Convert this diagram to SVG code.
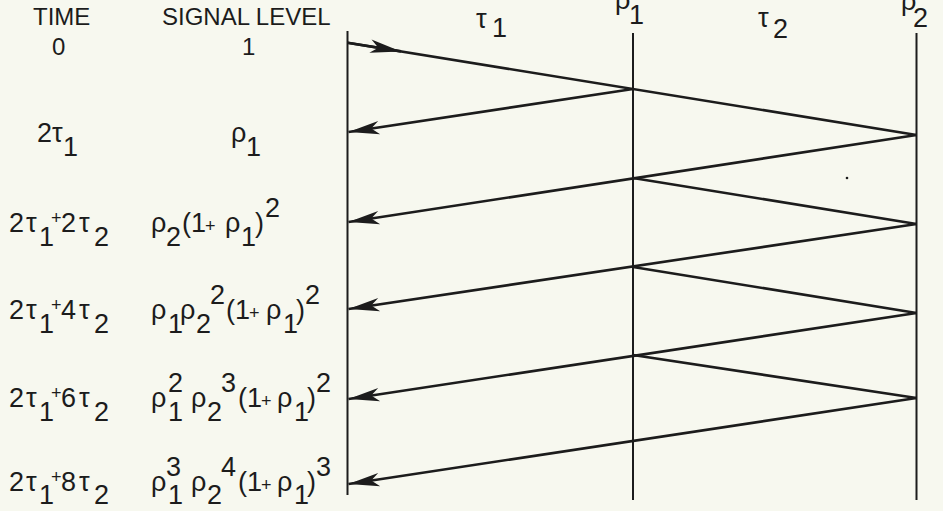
<svg xmlns="http://www.w3.org/2000/svg" width="943" height="511" viewBox="0 0 943 511">
<defs>
<style>
.t{font-family:"Liberation Sans","DejaVu Sans",sans-serif;font-size:27px;fill:#1c1c1c}
.h{font-size:24px}
.p{font-size:18px}
.b{stroke:#1c1c1c;stroke-width:2;fill:none}
.r{stroke:#1c1c1c;stroke-width:2.6;fill:none}
</style>
<marker id="ah" markerUnits="userSpaceOnUse" orient="auto" refX="0" refY="0" markerWidth="40" markerHeight="20" viewBox="-34 -10 40 20" overflow="visible">
<path d="M0,0 L-31,-7 L-23,0 L-31,6.5 Z" fill="#1c1c1c"/>
</marker>
</defs>
<rect width="943" height="511" fill="#f7f8ef"/>

<g id="headers">
<text class="t h" x="33" y="25">TIME</text>
<text class="t h" x="162" y="25">SIGNAL LEVEL</text>
</g>

<g id="top-labels">
<text class="t"><tspan x="476" y="28">τ</tspan><tspan x="492" y="37">1</tspan></text>
<text class="t"><tspan x="615" y="9">ρ</tspan><tspan x="629" y="24">1</tspan></text>
<text class="t"><tspan x="758" y="27">τ</tspan><tspan x="773" y="38">2</tspan></text>
<text class="t"><tspan x="901" y="10">ρ</tspan><tspan x="913" y="27">2</tspan></text>
</g>

<g id="boundaries">
<line class="b" x1="347.5" y1="31" x2="347.5" y2="495"/>
<line class="b" x1="633" y1="33" x2="633" y2="500"/>
<line class="b" x1="916.5" y1="33" x2="916.5" y2="500"/>
</g>

<g id="row0">
<text class="t h" x="52" y="55">0</text>
<text class="t h" x="242" y="55">1</text>
</g>

<g id="row1">
<text class="t"><tspan x="37" y="142">2</tspan><tspan x="52" y="142">τ</tspan><tspan x="63" y="156">1</tspan></text>
<text class="t"><tspan x="231" y="142">ρ</tspan><tspan x="246" y="156">1</tspan></text>
</g>

<g id="row2">
<text class="t"><tspan x="9" y="232">2</tspan><tspan x="26" y="232">τ</tspan><tspan x="39" y="246">1</tspan><tspan class="p" x="51" y="224">+</tspan><tspan x="61" y="232">2</tspan><tspan x="79" y="232">τ</tspan><tspan x="94" y="246">2</tspan></text>
<text class="t"><tspan x="151" y="232">ρ</tspan><tspan x="166" y="246">2</tspan><tspan x="182" y="232">(</tspan><tspan x="191" y="232">1</tspan><tspan class="p" x="205" y="232">+</tspan><tspan x="225" y="232">ρ</tspan><tspan x="241" y="246">1</tspan><tspan x="255" y="232">)</tspan><tspan x="265" y="217">2</tspan></text>
</g>

<g id="row3">
<text class="t"><tspan x="9" y="319">2</tspan><tspan x="26" y="319">τ</tspan><tspan x="39" y="333">1</tspan><tspan class="p" x="51" y="311">+</tspan><tspan x="61" y="319">4</tspan><tspan x="79" y="319">τ</tspan><tspan x="94" y="333">2</tspan></text>
<text class="t"><tspan x="151" y="319">ρ</tspan><tspan x="168" y="333">1</tspan><tspan x="180" y="319">ρ</tspan><tspan x="196" y="333">2</tspan><tspan x="210" y="304">2</tspan><tspan x="226" y="319">(</tspan><tspan x="235" y="319">1</tspan><tspan class="p" x="249" y="319">+</tspan><tspan x="266" y="319">ρ</tspan><tspan x="283" y="333">1</tspan><tspan x="296" y="319">)</tspan><tspan x="305" y="304">2</tspan></text>
</g>

<g id="row4">
<text class="t"><tspan x="9" y="407">2</tspan><tspan x="26" y="407">τ</tspan><tspan x="39" y="421">1</tspan><tspan class="p" x="51" y="399">+</tspan><tspan x="61" y="407">6</tspan><tspan x="79" y="407">τ</tspan><tspan x="94" y="421">2</tspan></text>
<text class="t"><tspan x="151" y="407">ρ</tspan><tspan x="168" y="421">1</tspan><tspan x="168" y="392">2</tspan><tspan x="191" y="407">ρ</tspan><tspan x="207" y="421">2</tspan><tspan x="221" y="392">3</tspan><tspan x="238" y="407">(</tspan><tspan x="247" y="407">1</tspan><tspan class="p" x="261" y="407">+</tspan><tspan x="277" y="407">ρ</tspan><tspan x="294" y="421">1</tspan><tspan x="307" y="407">)</tspan><tspan x="316" y="392">2</tspan></text>
</g>

<g id="row5">
<text class="t"><tspan x="9" y="491">2</tspan><tspan x="26" y="491">τ</tspan><tspan x="39" y="504">1</tspan><tspan class="p" x="51" y="483">+</tspan><tspan x="61" y="491">8</tspan><tspan x="79" y="491">τ</tspan><tspan x="94" y="504">2</tspan></text>
<text class="t"><tspan x="151" y="491">ρ</tspan><tspan x="168" y="504">1</tspan><tspan x="166" y="476">3</tspan><tspan x="191" y="491">ρ</tspan><tspan x="207" y="504">2</tspan><tspan x="221" y="476">4</tspan><tspan x="238" y="491">(</tspan><tspan x="247" y="491">1</tspan><tspan class="p" x="261" y="491">+</tspan><tspan x="277" y="491">ρ</tspan><tspan x="294" y="504">1</tspan><tspan x="307" y="491">)</tspan><tspan x="316" y="476">3</tspan></text>
</g>

<g id="connectors">
<line class="r" x1="347.5" y1="42.7" x2="916.5" y2="135"/>
<line class="r" x1="347.5" y1="42.7" x2="401" y2="51.4" marker-end="url(#ah)"/>
<line class="r" x1="633" y1="89" x2="348.5" y2="132" marker-end="url(#ah)"/>
<line class="r" x1="916.5" y1="135" x2="348.5" y2="222" marker-end="url(#ah)"/>
<line class="r" x1="633" y1="178" x2="916.5" y2="224"/>
<line class="r" x1="916.5" y1="224" x2="348.5" y2="309" marker-end="url(#ah)"/>
<line class="r" x1="633" y1="267" x2="916.5" y2="313"/>
<line class="r" x1="916.5" y1="313" x2="348.5" y2="399" marker-end="url(#ah)"/>
<line class="r" x1="633" y1="355" x2="916.5" y2="398"/>
<line class="r" x1="916.5" y1="398" x2="348.5" y2="484" marker-end="url(#ah)"/>
</g>
<circle cx="847" cy="178" r="1.3" fill="#1c1c1c"/>
</svg>
